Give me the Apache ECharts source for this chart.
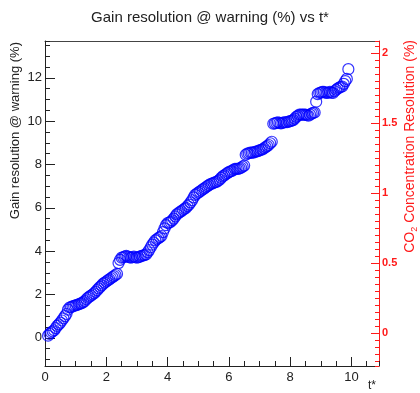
<!DOCTYPE html>
<html>
<head>
<meta charset="utf-8">
<script src="https://cdn.jsdelivr.net/npm/echarts@6/dist/echarts.min.js"></script>
<style>
  html, body { margin: 0; padding: 0; background: #fff; }
  #main { width: 420px; height: 393px; }
</style>
</head>
<body>
<div id="main"></div>
<script>
  // t* values (x) and gain resolution @ warning (%)
  var tStar = [
    0.10, 0.15, 0.20, 0.25, 0.30, 0.35, 0.40, 0.45, 0.50, 0.55,
    0.60, 0.65, 0.70, 0.75, 0.80, 0.85, 0.90, 0.95, 1.00, 1.05,
    1.10, 1.15, 1.20, 1.25, 1.30, 1.35, 1.40, 1.45, 1.50, 1.55,
    1.60, 1.65, 1.70, 1.75, 1.80, 1.85, 1.90, 1.95, 2.00, 2.05,
    2.10, 2.15, 2.20, 2.25, 2.30, 2.35, 2.40, 2.45, 2.50, 2.55,
    2.60, 2.65, 2.70, 2.75, 2.80, 2.85, 2.90, 2.95, 3.00, 3.05,
    3.10, 3.15, 3.20, 3.25, 3.30, 3.35, 3.40, 3.45, 3.50, 3.55,
    3.60, 3.65, 3.70, 3.75, 3.80, 3.85, 3.90, 3.95, 4.00, 4.05,
    4.10, 4.15, 4.20, 4.25, 4.30, 4.35, 4.40, 4.45, 4.50, 4.55,
    4.60, 4.65, 4.70, 4.75, 4.80, 4.85, 4.90, 4.95, 5.00, 5.05,
    5.10, 5.15, 5.20, 5.25, 5.30, 5.35, 5.40, 5.45, 5.50, 5.55,
    5.60, 5.65, 5.70, 5.75, 5.80, 5.85, 5.90, 5.95, 6.00, 6.05,
    6.10, 6.15, 6.20, 6.25, 6.30, 6.35, 6.40, 6.45, 6.50, 6.55,
    6.60, 6.65, 6.70, 6.75, 6.80, 6.85, 6.90, 6.95, 7.00, 7.05,
    7.10, 7.15, 7.20, 7.25, 7.30, 7.35, 7.40, 7.45, 7.50, 7.55,
    7.60, 7.65, 7.70, 7.75, 7.80, 7.85, 7.90, 7.95, 8.00, 8.05,
    8.10, 8.15, 8.20, 8.25, 8.30, 8.35, 8.40, 8.45, 8.50, 8.55,
    8.60, 8.65, 8.70, 8.75, 8.80, 8.85, 8.90, 8.95, 9.00, 9.05,
    9.10, 9.15, 9.20, 9.25, 9.30, 9.35, 9.40, 9.45, 9.50, 9.55,
    9.60, 9.65, 9.70, 9.75, 9.80, 9.85, 9.90
  ];
  var gainRes = [
    0.10, 0.18, 0.25, 0.30, 0.35, 0.45, 0.55, 0.62, 0.70, 0.80,
    0.90, 1.00, 1.10, 1.30, 1.40, 1.42, 1.45, 1.48, 1.50, 1.52,
    1.55, 1.58, 1.60, 1.65, 1.70, 1.78, 1.85, 1.90, 1.95, 2.00,
    2.05, 2.12, 2.20, 2.28, 2.35, 2.42, 2.50, 2.55, 2.60, 2.65,
    2.70, 2.75, 2.80, 2.85, 2.90, 2.95, 3.45, 3.60, 3.70, 3.72,
    3.75, 3.78, 3.75, 3.72, 3.70, 3.72, 3.75, 3.72, 3.70, 3.72,
    3.75, 3.78, 3.80, 3.82, 3.85, 3.95, 4.05, 4.18, 4.30, 4.40,
    4.50, 4.55, 4.60, 4.65, 4.70, 4.88, 5.05, 5.20, 5.30, 5.32,
    5.35, 5.42, 5.50, 5.60, 5.70, 5.75, 5.80, 5.85, 5.90, 5.95,
    6.00, 6.08, 6.15, 6.25, 6.35, 6.48, 6.60, 6.65, 6.70, 6.75,
    6.80, 6.85, 6.90, 6.95, 7.00, 7.05, 7.10, 7.12, 7.15, 7.18,
    7.20, 7.25, 7.30, 7.38, 7.45, 7.50, 7.55, 7.60, 7.65, 7.68,
    7.70, 7.75, 7.80, 7.80, 7.80, 7.82, 7.85, 7.90, 7.95, 8.45,
    8.50, 8.52, 8.55, 8.55, 8.55, 8.58, 8.60, 8.62, 8.65, 8.68,
    8.70, 8.75, 8.80, 8.85, 8.90, 8.98, 9.05, 9.88, 9.90, 9.92,
    9.95, 9.92, 9.90, 9.92, 9.95, 9.95, 9.95, 9.98, 10.00, 10.02,
    10.05, 10.12, 10.20, 10.25, 10.30, 10.30, 10.30, 10.30, 10.30, 10.28,
    10.25, 10.30, 10.35, 10.38, 10.40, 10.90, 11.25, 11.30, 11.32, 11.35,
    11.35, 11.32, 11.30, 11.32, 11.35, 11.32, 11.30, 11.38, 11.45, 11.50,
    11.55, 11.58, 11.60, 11.72, 11.85, 11.95, 12.40
  ];
  var xRange = [0, 10.9];
  var gainRange = [-1.3, 13.7];
  var co2Range = [-0.234, 2.088];

  var font = 'Liberation Sans, Arial, Helvetica, sans-serif';
  var red = '#ff1a1a';
  var ink = '#222';

  var points = tStar.map(function (t, i) { return [t, gainRes[i]]; });

  // major axis (labels + long ticks) or minor axis (short ticks only)
  function axis (pos, range, split, tickLen, color, line, labels) {
    return {
      type: 'value', position: pos, min: range[0], max: range[1], splitNumber: split,
      axisLine: { show: line, onZero: false, lineStyle: { color: color, width: 1 } },
      axisTick: { show: tickLen > 0, inside: true, length: tickLen, lineStyle: { color: color } },
      axisLabel: labels || { show: false },
      splitLine: { show: false }
    };
  }

  var myChart = echarts.init(document.getElementById('main'));
  myChart.setOption({
    animation: false,
    title: {
      text: 'Gain resolution @ warning (%) vs t*',
      left: 'center',
      top: 5,
      textStyle: { fontFamily: font, fontSize: 15, fontWeight: 'normal', color: ink }
    },
    grid: { left: 45, right: 41, top: 41, bottom: 27 },
    xAxis: [
      axis('bottom', xRange, 5, 9, ink, true,
        { showMinLabel: true, showMaxLabel: false, margin: 5, color: ink, fontSize: 13, fontFamily: font }),
      axis('bottom', xRange, 22, 5, ink, false),
      axis('top', xRange, 5, 0, '#444', true)
    ],
    yAxis: [
      axis('left', gainRange, 7, 10, ink, true,
        { showMinLabel: false, showMaxLabel: false, margin: 3, color: ink, fontSize: 13, fontFamily: font }),
      axis('left', gainRange, 30, 5, ink, false),
      axis('right', co2Range, 5, 8, red, true,
        { showMinLabel: false, showMaxLabel: false, margin: 3, color: red, fontSize: 11, fontWeight: 'bold', fontFamily: font }),
      axis('right', co2Range, 46, 4, red, false)
    ],
    graphic: [
      {
        type: 'text', x: 15, y: 42, rotation: Math.PI / 2,
        style: { text: 'Gain resolution @ warning (%)', align: 'right', verticalAlign: 'middle', fill: ink, font: '13px ' + font }
      },
      {
        type: 'text', x: 410, y: 40, rotation: Math.PI / 2,
        style: {
          text: '{n|CO}{s|2}{n| Concentration Resolution (%)}',
          align: 'right', verticalAlign: 'middle',
          rich: {
            n: { fontSize: 14, fontFamily: font, fill: red, lineHeight: 18 },
            s: { fontSize: 9, fontFamily: font, fill: red, lineHeight: 18, verticalAlign: 'bottom', padding: [7, 0, 0, 0] }
          }
        }
      },
      {
        type: 'text', x: 372, y: 386,
        style: { text: 't*', align: 'center', verticalAlign: 'middle', fill: ink, font: '12px ' + font }
      }
    ],
    series: [{
      name: 'gain resolution',
      type: 'scatter',
      xAxisIndex: 0,
      yAxisIndex: 0,
      data: points,
      symbol: 'circle',
      symbolSize: 11,
      itemStyle: { color: 'rgba(0,0,0,0)', borderColor: '#0000ff', borderWidth: 1.2 }
    }]
  });
</script>
</body>
</html>
